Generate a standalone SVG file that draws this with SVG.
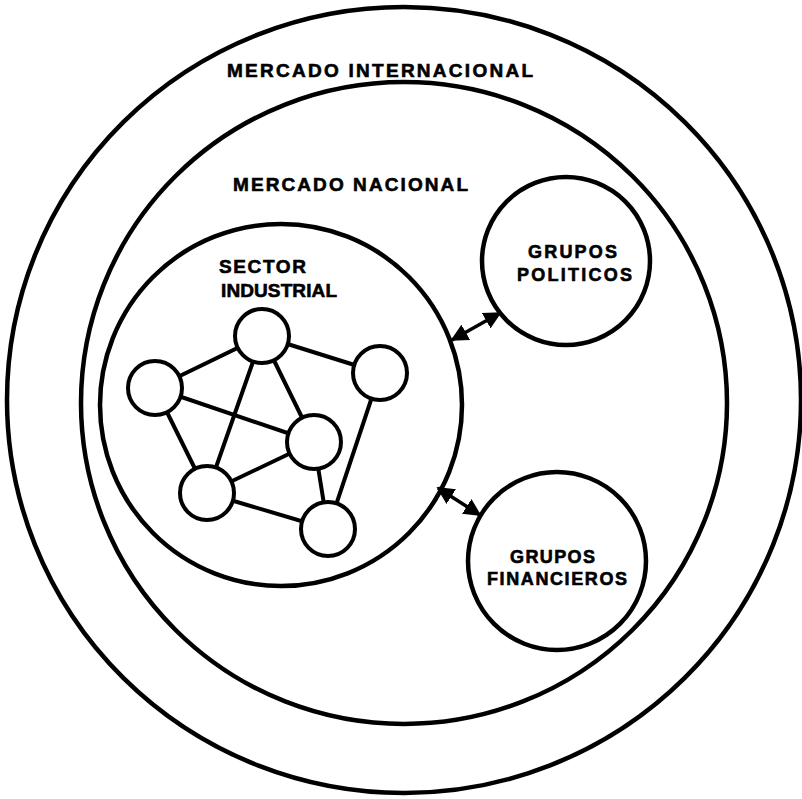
<svg xmlns="http://www.w3.org/2000/svg" width="802" height="799" viewBox="0 0 802 799">
<style>
.big{fill:none;stroke:#000;stroke-width:4.5}
.node{fill:#fff;stroke:#000;stroke-width:4}
.edge{stroke:#000;stroke-width:4;stroke-linecap:round}
.arr{stroke:#000;stroke-width:3.5;fill:none}
text{font-family:"Liberation Sans",Arial,sans-serif;font-weight:bold;fill:#000;stroke:#000;stroke-width:0.6}
</style>
<defs>
<marker id="ah" viewBox="0 0 10 10" refX="9" refY="5" markerWidth="5" markerHeight="5" orient="auto-start-reverse" markerUnits="strokeWidth">
<path d="M0,0 L10,5 L0,10 Z" fill="#000"/>
</marker>
</defs>
<rect width="802" height="799" fill="#fff"/>
<g id="mercado-internacional">
<ellipse class="big" cx="404" cy="400" rx="397" ry="393"/>
<text x="227" y="77" font-size="19" textLength="306" lengthAdjust="spacing">MERCADO INTERNACIONAL</text>
</g>
<g id="mercado-nacional">
<ellipse class="big" cx="404" cy="403" rx="323" ry="321"/>
<text x="233" y="191" font-size="19" textLength="235" lengthAdjust="spacing">MERCADO NACIONAL</text>
</g>
<g id="sector-industrial">
<circle class="big" cx="281" cy="405" r="181"/>
<text x="219" y="273" font-size="19" textLength="87" lengthAdjust="spacing">SECTOR</text>
<text x="221" y="297" font-size="19" textLength="116" lengthAdjust="spacing">INDUSTRIAL</text>
</g>
<g id="grupos-politicos">
<circle class="big" cx="566" cy="261" r="84"/>
<text x="528" y="258" font-size="18" textLength="89" lengthAdjust="spacing">GRUPOS</text>
<text x="517" y="281" font-size="18" textLength="115" lengthAdjust="spacing">POLITICOS</text>
</g>
<g id="grupos-financieros">
<circle class="big" cx="557" cy="561" r="89"/>
<text x="510" y="563" font-size="18" textLength="85" lengthAdjust="spacing">GRUPOS</text>
<text x="487" y="585" font-size="18" textLength="140" lengthAdjust="spacing">FINANCIEROS</text>
</g>
<g id="connectors">
<line class="edge" x1="262" y1="336" x2="155" y2="388"/>
<line class="edge" x1="262" y1="336" x2="380" y2="373"/>
<line class="edge" x1="262" y1="336" x2="207" y2="493"/>
<line class="edge" x1="262" y1="336" x2="314" y2="442"/>
<line class="edge" x1="155" y1="388" x2="314" y2="442"/>
<line class="edge" x1="155" y1="388" x2="207" y2="493"/>
<line class="edge" x1="207" y1="493" x2="314" y2="442"/>
<line class="edge" x1="207" y1="493" x2="328" y2="529"/>
<line class="edge" x1="314" y1="442" x2="328" y2="529"/>
<line class="edge" x1="380" y1="373" x2="328" y2="529"/>
<line class="arr" x1="452" y1="340" x2="500" y2="313" marker-start="url(#ah)" marker-end="url(#ah)"/>
<line class="arr" x1="438" y1="488" x2="480" y2="515" marker-start="url(#ah)" marker-end="url(#ah)"/>
</g>
<g id="node-1"><circle class="node" cx="262" cy="336" r="27"/></g>
<g id="node-2"><circle class="node" cx="155" cy="388" r="27"/></g>
<g id="node-3"><circle class="node" cx="380" cy="373" r="27"/></g>
<g id="node-4"><circle class="node" cx="314" cy="442" r="27"/></g>
<g id="node-5"><circle class="node" cx="207" cy="493" r="27"/></g>
<g id="node-6"><circle class="node" cx="328" cy="529" r="27"/></g>
</svg>
